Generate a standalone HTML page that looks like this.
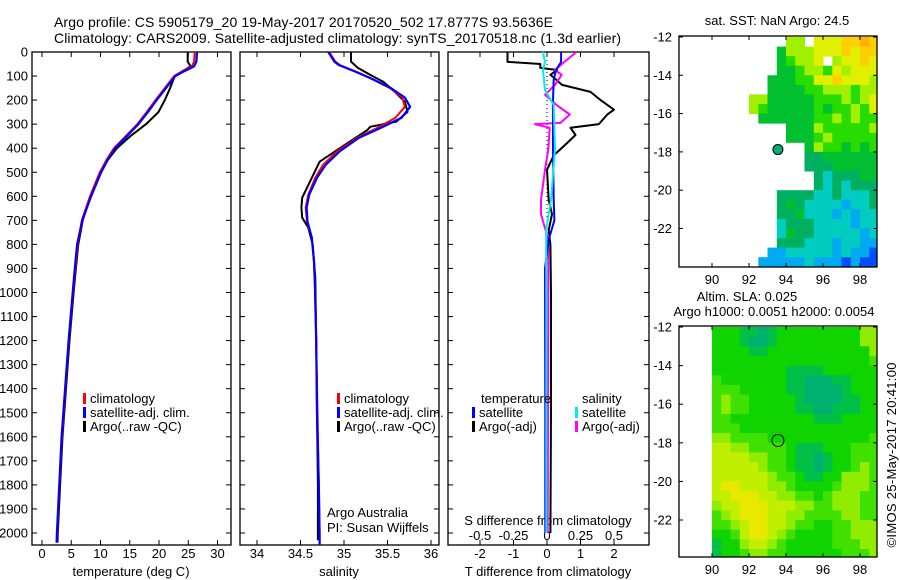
<!DOCTYPE html>
<html><head><meta charset="utf-8"><style>
html,body{margin:0;padding:0;background:#fff}
svg{display:block}
text{font-family:"Liberation Sans",sans-serif;fill:#000}
</style></head><body>
<svg id="fig" xmlns="http://www.w3.org/2000/svg" width="900" height="580" viewBox="0 0 900 580">
<text x="54" y="27" font-size="14" textLength="499">Argo profile: CS 5905179_20 19-May-2017 20170520_502 17.8777S 93.5636E</text>
<text x="54" y="43" font-size="14" textLength="567">Climatology: CARS2009. Satellite-adjusted climatology: synTS_20170518.nc (1.3d earlier)</text>
<g id="g"></g>
</svg>
<script>
// ---- temperature panel data ----
const tDepth=[0,40,60,80,100,150,200,250,300,350,400,450,500,600,700,800,900,1000,1200,1400,1600,1800,2000,2040];
const tClim=[26.1,26.0,25.6,24.0,22.6,21.0,19.4,17.9,16.3,14.3,12.3,11.0,9.9,8.2,6.8,6.1,5.7,5.3,4.6,4.0,3.4,3.0,2.6,2.55];
const tSat=[26.5,26.4,26.0,24.3,22.8,21.2,19.6,18.1,16.5,14.5,12.5,11.2,10.1,8.4,6.9,6.0,5.6,5.25,4.55,3.95,3.35,2.95,2.55,2.5];
const tArgo=[24.9,24.9,25.4,24.0,22.7,21.9,21.0,19.9,17.8,15.1,12.8,11.2,9.9,8.25,6.95,6.2,5.8,5.4,4.7,4.1,3.5,3.1,2.7,2.65];
// ---- salinity panel data ----
const sDepth=[0,40,54,83,108,150,190,228,274,316,357,413,469,523,593,647,705,772,871,967,1200,1500,1800,2000,2050];
const sClim=[34.83,34.9,34.95,35.15,35.30,35.53,35.67,35.70,35.59,35.38,35.15,34.92,34.76,34.67,34.59,34.56,34.575,34.63,34.655,34.665,34.68,34.695,34.71,34.72,34.72];
const sSat=[34.82,34.89,34.94,35.14,35.30,35.54,35.70,35.76,35.66,35.42,35.17,34.95,34.79,34.69,34.60,34.57,34.58,34.63,34.655,34.665,34.68,34.69,34.71,34.72,34.72];
const saDepth=[0,40,66,95,124,157,207,249,290,311,324,386,456,523,606,647,689,730,801,938,1200,1500,1800,2000,2030];
const sArgo=[35.08,35.08,35.16,35.30,35.45,35.56,35.70,35.73,35.60,35.30,35.27,35.01,34.72,34.63,34.52,34.51,34.52,34.59,34.64,34.67,34.68,34.69,34.70,34.70,34.70];
// ---- difference panel data ----
const dtaDepth=[0,41,50,66,75,95,137,166,200,240,260,300,315,345,385,430,490,615,675,740,800,1000,1500,2000];
const dtArgo=[-1.18,-1.18,-0.2,-0.2,0.3,0.1,0.45,1.3,1.6,2.0,1.8,1.55,0.7,0.85,0.55,0.2,0,0.05,0.15,0.05,0.1,0.12,0.12,0.1];
const dtsDepth=[0,41,75,116,200,405,615,700,780,900,1500,2000];
const dtSat=[0.42,0.42,0.27,0.2,0.18,0.18,0.2,0.22,0.05,-0.06,-0.05,-0.05];
const dssDepth=[0,41,75,158,220,405,615,740,1000,2000];
const dsSat=[-0.03,-0.015,-0.03,-0.015,0.05,0.06,0.03,-0.007,-0.005,-0.005];
const dsaDepth=[0,41,75,95,137,178,220,260,295,300,315,405,490,615,675,780,1000,2000];
const dsArgo=[0.22,0.13,0.06,0.11,0.06,-0.015,0.07,0.17,0.1,-0.09,0.02,0.01,-0.015,-0.045,-0.045,0.01,0.01,0.005];
// ---- ticks ----
const depthTicks=[0,100,200,300,400,500,600,700,800,900,1000,1100,1200,1300,1400,1500,1600,1700,1800,1900,2000];
const tTicks=[0,5,10,15,20,25,30];
const sTicks=[34,34.5,35,35.5,36];
const sTickLabels=["34","34.5","35","35.5","36"];
const dTTicks=[-2,-1,0,1,2];
const dSTicks=[-0.5,-0.25,0,0.25,0.5];
const dSTickLabels=["-0.5","-0.25","0","0.25","0.5"];
const latTicks=[-12,-14,-16,-18,-20,-22];
const lonTicks=[90,92,94,96,98];
const argoLon=93.5636, argoLat=-17.8777;
// ---- map grids (0.5 deg cells, lon 88..99, lat -12..-24; '.'=no data, digit=colour level) ----
const sstRows=[
"............66.7778898","...........46667778788","...........45667.67787","...........44566576777",
"..........444557787776","..........444455666566","........66444445556567","........65444445455657",
".........4444445565655","............4446555556","............4445655555","..............46554545",
"..............33444444","..............33344444","...............3233344","...............3232333",
"...........33332232223","...........34322221223","...........33422212122","...........23332222122",
"...........24332222212","...........33322212211","..........112222212110",".........1111121110100"];
const sstColors=["#0050ff","#00aaf0","#00cdc0","#00b060","#00c030","#28dc00","#a0f000","#e0f000","#ffd000","#ffb000"];
const slaRows=[
"....555443455555555577","....555433455555555577","....555544555555555557","....555555555555555556",
"....555555554444555555","....655555554433344555","....666555554433334555","....676655555433334455",
"....676655555443344455","....665555555554445555","....666555555555555555","....776666555555555556",
"....887766665444555666","....888877665443455666","....888887665443455676","....888888766544557776",
"....899888776555567776","....889998877665677766","....788999888776677766","....678999887766667766",
"....667899887665566777","....556899876555566777","....455788765555566677","....455677665555556667"];
const slaColors=["#0050ff","#00aaf0","#00cdc0","#00b070","#00c048","#10d400","#40e000","#90ec00","#c0f000","#e8e800"];

const NS="http://www.w3.org/2000/svg";
const G=document.getElementById('g');
function el(tag,attrs,parent){const e=document.createElementNS(NS,tag);for(const k in attrs)e.setAttribute(k,attrs[k]);(parent||G).appendChild(e);return e;}
function txt(x,y,s,size,anchor,parent){const e=el('text',{x:x,y:y,'font-size':size||13,'text-anchor':anchor||'start'},parent);e.textContent=s;return e;}

const Y0=52,PY=0.2405,PB=545;
const yD=d=>Y0+d*PY;
const xT=v=>42+v*5.85;
const xS=v=>257+(v-34)*87;
const xDT=v=>547+v*33.5;
const xDS=v=>547+v*134;

const panels=[[32,231,'temperature-panel'],[240,439,'salinity-panel'],[448,649,'difference-panel']];
panels.forEach(p=>{
  const r=el('rect',{x:p[0],y:Y0,width:p[1]-p[0],height:PB-Y0,fill:'none',stroke:'#000','stroke-width':1.3});
  
  
  depthTicks.forEach(d=>{
    el('line',{x1:p[0],x2:p[0]+5,y1:yD(d),y2:yD(d),stroke:'#000'});
    el('line',{x1:p[1]-5,x2:p[1],y1:yD(d),y2:yD(d),stroke:'#000'});
  });
});
const yAx=el('g',{});


depthTicks.forEach(d=>{txt(28,yD(d)+4.5,String(d),13,'end',yAx);});

function xTicks(ticks,labels,fx,y,parent){
  ticks.forEach((v,i)=>{
    const x=fx(v);
    el('line',{x1:x,x2:x,y1:Y0,y2:Y0+5,stroke:'#000'});
    el('line',{x1:x,x2:x,y1:PB-5,y2:PB,stroke:'#000'});
    if(labels) txt(x,y,labels[i],13,'middle',parent);
  });
}
const ax1=el('g',{});
xTicks(tTicks,tTicks.map(String),xT,558,ax1);
const ax2=el('g',{});
xTicks(sTicks,sTickLabels,xS,558,ax2);
const ax3=el('g',{});
xTicks(dTTicks,dTTicks.map(String),xDT,558,ax3);
const ax4=el('g',{});
dSTicks.forEach((v,i)=>txt(xDS(v),540,dSTickLabels[i],13,'middle',ax4));

let t;
t=txt(131,576,'temperature (deg C)',13,'middle');
t=txt(339,576,'salinity',13,'middle');
t=txt(548,576,'T difference from climatology',13,'middle');
t=txt(548,525,'S difference from climatology',13,'middle');
t=txt(327,517,'Argo Australia',13);
t=txt(327,532,'PI: Susan Wijffels',13);

el('line',{x1:547,x2:547,y1:Y0,y2:yD(800),stroke:'#000','stroke-dasharray':'1 3'});

function line(depths,vals,fx,color,w,name){
  const pts=depths.map((d,i)=>fx(vals[i]).toFixed(1)+','+yD(d).toFixed(1)).join(' ');
  const e=el('polyline',{points:pts,fill:'none',stroke:color,'stroke-width':w,'stroke-linejoin':'round'});
  
  
}
line(tDepth,tArgo,xT,'#000',2,'temperature-argo-line');
line(tDepth,tClim,xT,'#f00',2,'temperature-climatology-line');
line(tDepth,tSat,xT,'#00f',2.2,'temperature-satellite-line');
line(saDepth,sArgo,xS,'#000',2,'salinity-argo-line');
line(sDepth,sClim,xS,'#f00',2,'salinity-climatology-line');
line(sDepth,sSat,xS,'#00f',2.2,'salinity-satellite-line');
line(dtaDepth,dtArgo,xDT,'#000',2,'t-diff-argo-line');
line(dsaDepth,dsArgo,xDS,'#f0f',2,'s-diff-argo-line');
line(dtsDepth,dtSat,xDT,'#00f',2,'t-diff-satellite-line');
line(dssDepth,dsSat,xDS,'#0ee',2,'s-diff-satellite-line');

function legend(x,y,items,name){
  const g=el('g',{});
  
  
  items.forEach((it,i)=>{
    if(it[1]) el('rect',{x:x,y:y+i*14-10,width:3,height:11,fill:it[1]},g);
    txt(x+(it[1]?7:0),y+i*14,it[0],13,'start',g);
  });
}
legend(83,403,[['climatology','#f00'],['satellite-adj. clim.','#00f'],['Argo(..raw -QC)','#000']],'temperature-legend');
legend(337,403,[['climatology','#f00'],['satellite-adj. clim.','#00f'],['Argo(..raw -QC)','#000']],'salinity-legend');
legend(481,403,[['temperature',null]],'t-diff-legend-title');
legend(472,417,[['satellite','#00f'],['Argo(-adj)','#000']],'t-diff-legend');
legend(582,403,[['salinity',null]],'s-diff-legend-title');
legend(575,417,[['satellite','#0ee'],['Argo(-adj)','#f0f']],'s-diff-legend');

function drawMap(top,bottom,latPx,rows,colors,name,filled){
  const L=679,R=877;
  const xL=lon=>712+(lon-90)*18.5;
  const yL=lat=>top+1+(-12-lat)*latPx;
  const g=el('g',{});
  
  
  const cp=el('clipPath',{id:name+'-clip'},g);
  el('rect',{x:L,y:top,width:R-L,height:bottom-top},cp);
  const cells=el('g',{'clip-path':'url(#'+name+'-clip)'},g);
  rows.forEach((row,r)=>{
    for(let c=0;c<row.length;c++){
      const ch=row[c];if(ch==='.')continue;
      const lon=88+c*0.5,lat=-12-r*0.5;
      const x1=xL(lon),x2=xL(lon+0.5),y1=yL(lat),y2=yL(lat-0.5);
      el('rect',{x:x1.toFixed(1),y:y1.toFixed(1),width:(x2-x1+0.4).toFixed(1),height:(y2-y1+0.4).toFixed(1),fill:colors[+ch]},cells);
    }
  });
  el('rect',{x:L,y:top,width:R-L,height:bottom-top,fill:'none',stroke:'#000','stroke-width':1.3},g);
  latTicks.forEach(v=>{const y=yL(v);el('line',{x1:L,x2:L+4,y1:y,y2:y,stroke:'#000'},g);el('line',{x1:R-4,x2:R,y1:y,y2:y,stroke:'#000'},g);txt(672,y+4.5,String(v),13,'end',g);});
  lonTicks.forEach(v=>{const x=xL(v);el('line',{x1:x,x2:x,y1:top,y2:top+4,stroke:'#000'},g);el('line',{x1:x,x2:x,y1:bottom-4,y2:bottom,stroke:'#000'},g);txt(x,bottom+17,String(v),13,'middle',g);});
  const m=el('circle',{cx:xL(argoLon),cy:yL(argoLat),r:filled?5:6,fill:filled?'#00b070':'none',stroke:'#000','stroke-width':1},g);
  
  
}
drawMap(36,267,19.15,sstRows,sstColors,'sst-map',true);
drawMap(326,557,19.3,slaRows,slaColors,'sla-map',false);
t=txt(777,25,'sat. SST: NaN Argo: 24.5',13,'middle');
t=txt(747,301,'Altim. SLA: 0.025',13,'middle');
t=txt(774,316,'Argo h1000: 0.0051 h2000: 0.0054',13,'middle');
t=txt(0,0,'©IMOS 25-May-2017 20:41:00',13,'middle');
t.setAttribute('transform','translate(896,455) rotate(-90)');
t.setAttribute('textLength','185');

</script>
</body></html>
